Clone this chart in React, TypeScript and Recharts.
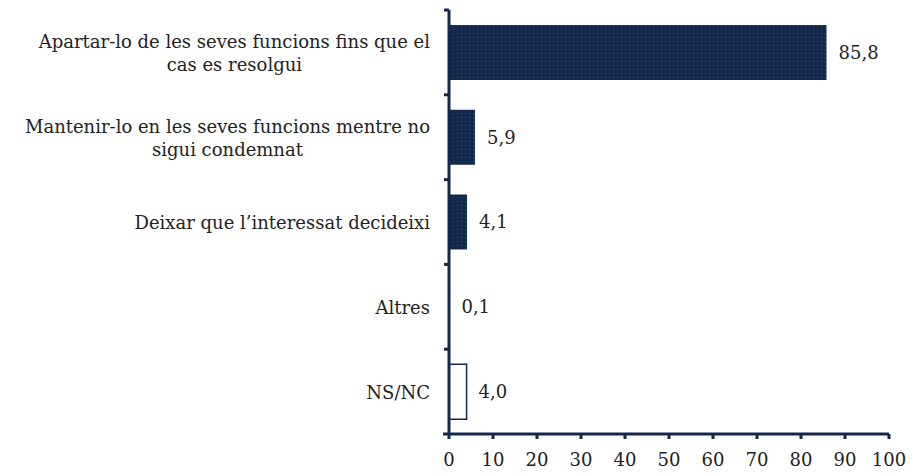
import { Bar, BarChart, Cell, LabelList, XAxis, YAxis } from "recharts";

const categories = [
  "Apartar-lo de les seves funcions fins que el\ncas es resolgui",
  "Mantenir-lo en les seves funcions mentre no\nsigui condemnat",
  "Deixar que l\u2019interessat decideixi",
  "Altres",
  "NS/NC",
];
const values = [85.8, 5.9, 4.1, 0.1, 4.0];
const xTicks = [0, 10, 20, 30, 40, 50, 60, 70, 80, 90, 100];

const NAVY = "#13294b";
const FONT = "DejaVu Serif";
const FONT_SIZE = 18;

const data = categories.map((name, i) => ({ name, value: values[i] }));

let ctx: CanvasRenderingContext2D | null = null;
function textWidth(s: string) {
  if (!ctx) ctx = document.createElement("canvas").getContext("2d");
  if (!ctx) return s.length * FONT_SIZE * 0.55;
  ctx.font = `${FONT_SIZE}px "${FONT}"`;
  return ctx.measureText(s).width;
}

// label lines centred on the widest line, plus a short tick at each band edge
function CategoryTick(props: any) {
  const { x, y, payload, index, visibleTicksCount } = props;
  const lines: string[] = String(payload.value).split("\n");
  const widest = Math.max(...lines.map(textWidth));
  const cx = x - widest / 2;
  const lineH = 23;
  const half = payload.offset || 0;
  const axisX = x + 19;
  return (
    <g>
      {lines.map((line, i) => (
        <text
          key={i}
          x={cx}
          y={y + (i - (lines.length - 1) / 2) * lineH + 7}
          textAnchor="middle"
          fill="#222"
          fontSize={FONT_SIZE}
          fontFamily={FONT}
        >
          {line}
        </text>
      ))}
      <line x1={axisX - 5} x2={axisX} y1={y - half} y2={y - half} stroke={NAVY} strokeWidth={3} />
      {index === visibleTicksCount - 1 && (
        <line x1={axisX - 6} x2={axisX} y1={y + half} y2={y + half} stroke={NAVY} strokeWidth={3} />
      )}
    </g>
  );
}

const fmt = (v: any) => Number(v).toFixed(1).replace(".", ",");

export default function App() {
  return (
    <div style={{ position: "absolute", left: 0, top: 0, width: 917, height: 476, background: "#fff" }}>
      <svg width={0} height={0} style={{ position: "absolute" }}>
        <defs>
          <pattern id="navyDots" width={4} height={4} patternUnits="userSpaceOnUse">
            <rect width={4} height={4} fill={NAVY} />
            <rect x={1} y={1} width={1} height={1} fill="#3a4f70" />
          </pattern>
        </defs>
      </svg>
      <BarChart
        width={917}
        height={476}
        data={data}
        layout="vertical"
        margin={{ top: 10, right: 28, bottom: 0, left: 0 }}
        barCategoryGap={0}
      >
        <XAxis
          type="number"
          domain={[0, 100]}
          ticks={xTicks}
          interval={0}
          height={42}
          axisLine={{ stroke: NAVY, strokeWidth: 3 }}
          tickLine={{ stroke: NAVY, strokeWidth: 3 }}
          tickSize={5}
          tickMargin={14}
          tick={{ fill: "#222", fontSize: FONT_SIZE, fontFamily: FONT }}
        />
        <YAxis
          type="category"
          dataKey="name"
          width={449}
          axisLine={{ stroke: NAVY, strokeWidth: 3 }}
          tickLine={false}
          tickSize={0}
          tickMargin={19}
          interval={0}
          tick={<CategoryTick />}
        />
        <Bar dataKey="value" barSize={55} isAnimationActive={false}>
          {values.map((_, i) => (
            <Cell
              key={i}
              fill={i === values.length - 1 ? "#fff" : "url(#navyDots)"}
              stroke={NAVY}
              strokeWidth={i === values.length - 1 ? 1.5 : 0}
            />
          ))}
          <LabelList
            dataKey="value"
            position="right"
            offset={12}
            formatter={fmt}
            fill="#222"
            fontSize={FONT_SIZE}
            fontFamily={FONT}
          />
        </Bar>
      </BarChart>
    </div>
  );
}
